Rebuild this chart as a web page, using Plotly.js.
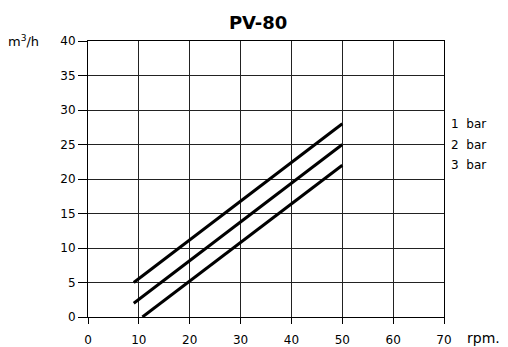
<!DOCTYPE html>
<html><head><meta charset="utf-8">
<script src="https://cdn.plot.ly/plotly-3.0.1.min.js"></script>
<style>html,body{margin:0;padding:0;background:#fff}#chart{width:508px;height:347px}</style>
</head><body><div id="chart"></div>
<script>
const seriesNames = ["1 bar", "2 bar", "3 bar"];
const rpm1 = [9, 50];   const flow1 = [5, 28];
const rpm2 = [9, 50];   const flow2 = [2, 25];
const rpm3 = [10.7, 50]; const flow3 = [0, 22];
const xTicks = [0, 10, 20, 30, 40, 50, 60, 70];
const yTicks = [0, 5, 10, 15, 20, 25, 30, 35, 40];

const font = "DejaVu Sans, sans-serif";
const xs = [rpm1, rpm2, rpm3], ys = [flow1, flow2, flow3];
const traces = xs.map((x, i) => ({
  x: x, y: ys[i], type: "scatter", mode: "lines", name: seriesNames[i],
  line: {color: "#000", width: 3}, showlegend: false, hoverinfo: "skip"
}));
const annotations = seriesNames.map((n, i) => ({
  text: n.replace(" ", "\u00a0\u00a0"), xref: "paper", x: 1, xshift: 5, xanchor: "left",
  yref: "y", y: ys[i][ys[i].length - 1], yanchor: "middle", showarrow: false,
  font: {family: font, size: 12, color: "#000"}
}));
annotations.push({text: "m<sup>3</sup>/h", xref: "paper", x: 0, xshift: -47, xanchor: "right",
  yref: "paper", y: 1, yanchor: "middle", showarrow: false, font: {family: font, size: 13, color: "#000"}});
annotations.push({text: "rpm.", xref: "paper", x: 1, xshift: 21, xanchor: "left",
  yref: "paper", y: 0, yshift: -21, yanchor: "middle", showarrow: false, font: {family: font, size: 14, color: "#000"}});

const layout = {
  width: 508, height: 347,
  margin: {l: 88, r: 64, t: 41, b: 30},
  paper_bgcolor: "#fff", plot_bgcolor: "#fff",
  title: {text: "<b>PV-80</b>", x: 0.508, xanchor: "center", y: 0.935, yanchor: "middle",
    font: {family: font, size: 18, color: "#000"}},
  xaxis: {range: [0, 70], tickvals: xTicks, ticktext: xTicks.map(String), showgrid: true,
    gridcolor: "#222", gridwidth: 1, showline: true, linecolor: "#000", linewidth: 1, mirror: true,
    ticks: "outside", ticklen: 6, tickcolor: "#000", ticklabelstandoff: 6, zeroline: false,
    tickfont: {family: font, size: 12, color: "#000"}, fixedrange: true},
  yaxis: {range: [0, 40], tickvals: yTicks, ticktext: yTicks.map(String), showgrid: true,
    gridcolor: "#222", gridwidth: 1, showline: true, linecolor: "#000", linewidth: 1, mirror: true,
    ticks: "outside", ticklen: 9, tickcolor: "#000", zeroline: false,
    tickfont: {family: font, size: 12, color: "#000"}, fixedrange: true},
  annotations: annotations
};
Plotly.newPlot("chart", traces, layout, {displayModeBar: false, staticPlot: true});
</script></body></html>
